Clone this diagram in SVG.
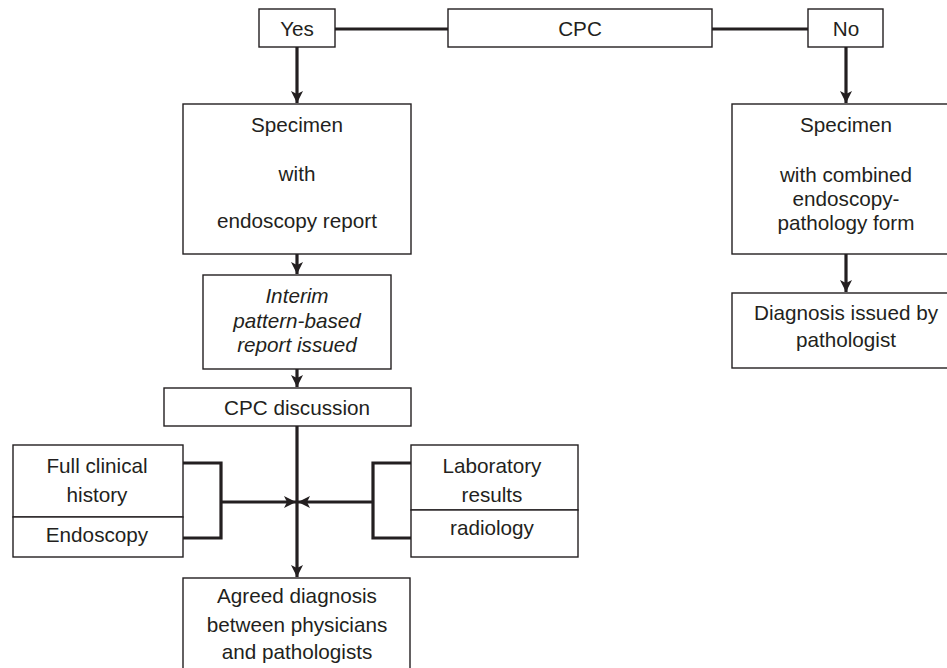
<svg xmlns="http://www.w3.org/2000/svg" width="947" height="668" viewBox="0 0 947 668">
<style>
.box{fill:#fff;stroke:#231f20;stroke-width:1.4}
.t{font-family:"Liberation Sans",Arial,sans-serif;font-size:20.7px;fill:#231f20;text-anchor:middle}
.i{font-style:italic}
.c{fill:none;stroke:#231f20;stroke-width:3.2}
</style>
<defs>
<marker id="ah" markerUnits="userSpaceOnUse" markerWidth="14" markerHeight="14" refX="12" refY="6" orient="auto">
<path d="M0,0 L12,6 L0,12 L3,6 z" fill="#231f20"/>
</marker>
</defs>
<rect width="947" height="668" fill="#fff"/>
<g id="connectors">
<path class="c" d="M335,29 H448"/>
<path class="c" d="M712,29 H808"/>
<path class="c" d="M297,47 V103" marker-end="url(#ah)"/>
<path class="c" d="M846,47 V103" marker-end="url(#ah)"/>
<path class="c" d="M846,254 V292" marker-end="url(#ah)"/>
<path class="c" d="M297,254 V274" marker-end="url(#ah)"/>
<path class="c" d="M297,369 V387" marker-end="url(#ah)"/>
<path class="c" d="M297,426 V577" marker-end="url(#ah)"/>
<path class="c" d="M183,463 H221 V538 H183"/>
<path class="c" d="M221,502 H296" marker-end="url(#ah)"/>
<path class="c" d="M411,463 H373 V538 H411"/>
<path class="c" d="M373,502 H298" marker-end="url(#ah)"/>
</g>
<g id="yes"><rect class="box" x="259" y="9" width="76" height="38"/><text class="t" x="297" y="36">Yes</text></g>
<g id="cpc"><rect class="box" x="448" y="9" width="264" height="38"/><text class="t" x="580" y="36">CPC</text></g>
<g id="no"><rect class="box" x="808" y="9" width="75" height="38"/><text class="t" x="846" y="36">No</text></g>
<g id="specimen-left"><rect class="box" x="183" y="104" width="228" height="150"/>
<text class="t" x="297" y="132">Specimen</text>
<text class="t" x="297" y="181">with</text>
<text class="t" x="297" y="228">endoscopy report</text></g>
<g id="specimen-right"><rect class="box" x="732" y="104" width="240" height="150"/>
<text class="t" x="846" y="132">Specimen</text>
<text class="t" x="846" y="182">with combined</text>
<text class="t" x="846" y="206">endoscopy-</text>
<text class="t" x="846" y="230">pathology form</text></g>
<g id="diagnosis"><rect class="box" x="732" y="293" width="240" height="75"/>
<text class="t" x="846" y="320">Diagnosis issued by</text>
<text class="t" x="846" y="347">pathologist</text></g>
<g id="interim"><rect class="box" x="203" y="275" width="188" height="94"/>
<text class="t i" x="297" y="303">Interim</text>
<text class="t i" x="297" y="328">pattern-based</text>
<text class="t i" x="297" y="352">report issued</text></g>
<g id="cpc-discussion"><rect class="box" x="164" y="388" width="247" height="38"/>
<text class="t" x="297" y="415">CPC discussion</text></g>
<g id="full-clinical"><rect class="box" x="13" y="445" width="170" height="72"/>
<text class="t" x="97" y="473">Full clinical</text>
<text class="t" x="97" y="502">history</text></g>
<g id="endoscopy"><rect class="box" x="13" y="517" width="170" height="40"/>
<text class="t" x="97" y="542">Endoscopy</text></g>
<g id="laboratory"><rect class="box" x="411" y="445" width="167" height="65"/>
<text class="t" x="492" y="473">Laboratory</text>
<text class="t" x="492" y="502">results</text></g>
<g id="radiology"><rect class="box" x="411" y="510" width="167" height="47"/>
<text class="t" x="492" y="535">radiology</text></g>
<g id="agreed"><rect class="box" x="183" y="578" width="227" height="100"/>
<text class="t" x="297" y="603">Agreed diagnosis</text>
<text class="t" x="297" y="632">between physicians</text>
<text class="t" x="297" y="659">and pathologists</text></g>
</svg>
